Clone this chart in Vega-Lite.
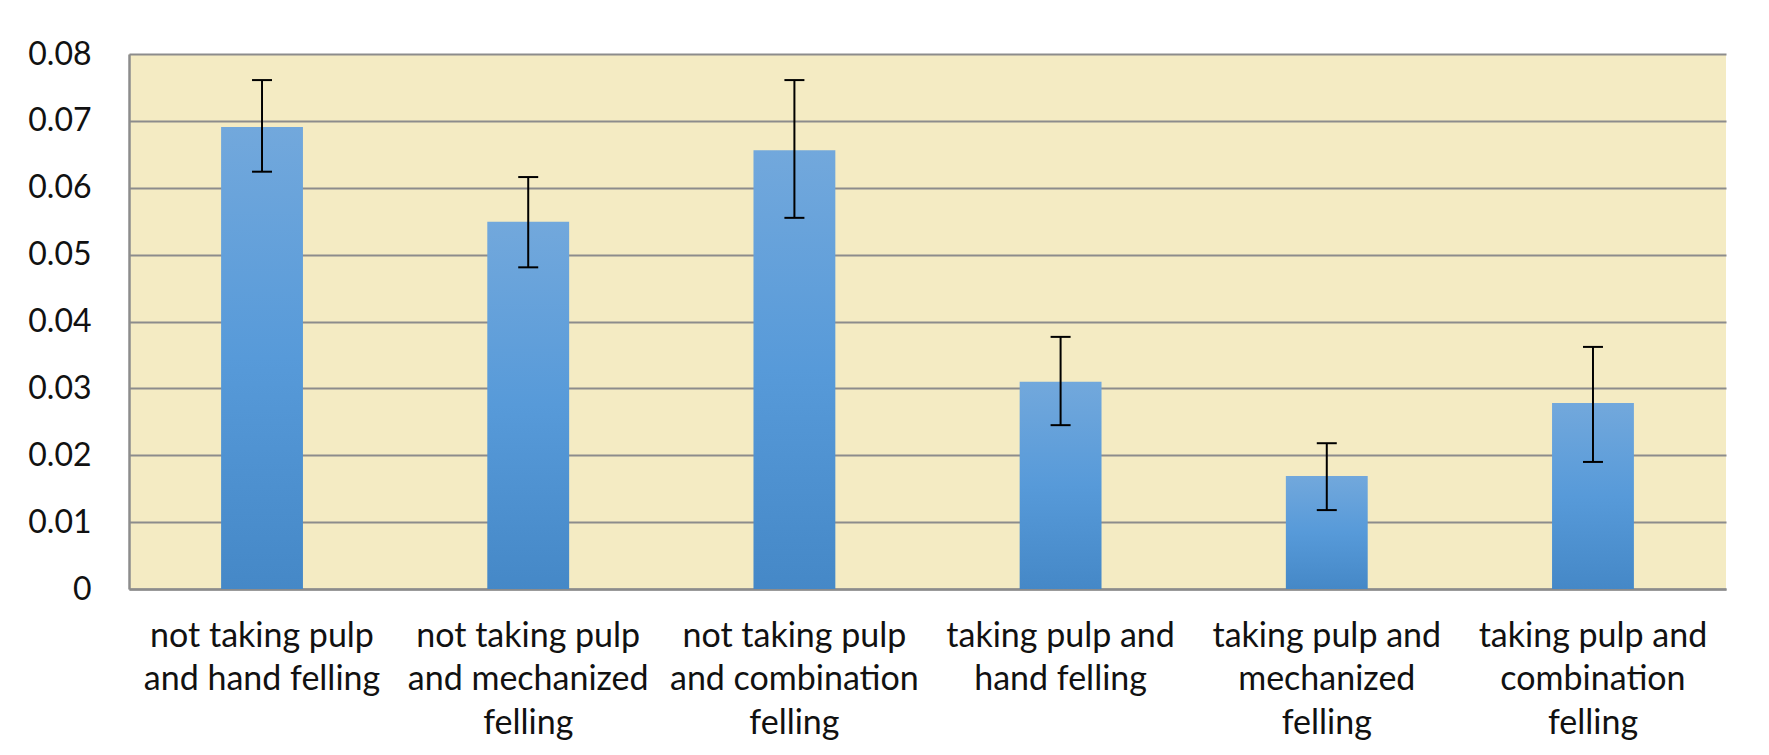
{
  "$schema": "https://vega.github.io/schema/vega-lite/v6.json",
  "autosize": {"type": "none"},
  "width": 1597,
  "height": 535,
  "padding": {"left": 129, "top": 54, "right": 43, "bottom": 166},
  "background": "white",
  "config": {
    "font": "Lato",
    "view": {"fill": "#f4ebc3", "stroke": null}
  },
  "data": {
    "values": [
      {"group": "not taking pulp|and hand felling", "value": 0.0691, "lo": 0.0624, "hi": 0.0761},
      {"group": "not taking pulp|and mechanized|felling", "value": 0.0549, "lo": 0.0481, "hi": 0.0616},
      {"group": "not taking pulp|and combination|felling", "value": 0.0656, "lo": 0.0555, "hi": 0.0761},
      {"group": "taking pulp and|hand felling", "value": 0.031, "lo": 0.0245, "hi": 0.0377},
      {"group": "taking pulp and|mechanized|felling", "value": 0.0169, "lo": 0.0118, "hi": 0.0218},
      {"group": "taking pulp and|combination|felling", "value": 0.0278, "lo": 0.019, "hi": 0.0362}
    ]
  },
  "encoding": {
    "x": {
      "field": "group",
      "type": "nominal",
      "sort": null,
      "scale": {"paddingInner": 0.6925, "paddingOuter": 0.346},
      "axis": {
        "title": null,
        "labelAngle": 0,
        "labelExpr": "split(datum.label, '|')",
        "labelFontSize": 34,
        "labelColor": "#111111",
        "labelLineHeight": 43.5,
        "labelBaseline": "top",
        "labelPadding": 30,
        "labelLimit": 0,
        "ticks": false,
        "domainColor": "#8c8c8c",
        "domainWidth": 2.5,
        "grid": false
      }
    }
  },
  "layer": [
    {
      "mark": {
        "type": "bar",
        "color": {
          "gradient": "linear",
          "x1": 0, "y1": 0, "x2": 0, "y2": 1,
          "stops": [
            {"offset": 0, "color": "#72a8dc"},
            {"offset": 0.5, "color": "#579ad9"},
            {"offset": 1, "color": "#4588c7"}
          ]
        }
      },
      "encoding": {
        "y": {
          "field": "value",
          "type": "quantitative",
          "scale": {"domain": [0, 0.08], "nice": false, "zero": true},
          "axis": {
            "title": null,
            "values": [0, 0.01, 0.02, 0.03, 0.04, 0.05, 0.06, 0.07, 0.08],
            "format": ".2~f",
            "labelFontSize": 32,
            "labelColor": "#111111",
            "labelPadding": 38,
            "ticks": false,
            "domainColor": "#8c8c8c",
            "domainWidth": 2.5,
            "grid": true,
            "gridColor": "#8c8c8c",
            "gridWidth": 2,
            "gridOpacity": 1
          }
        }
      }
    },
    {
      "mark": {"type": "rule", "color": "black", "strokeWidth": 2},
      "encoding": {
        "y": {"field": "lo", "type": "quantitative"},
        "y2": {"field": "hi"}
      }
    },
    {
      "mark": {"type": "tick", "color": "black", "thickness": 2, "size": 20, "opacity": 1},
      "encoding": {
        "y": {"field": "hi", "type": "quantitative"}
      }
    },
    {
      "mark": {"type": "tick", "color": "black", "thickness": 2, "size": 20, "opacity": 1},
      "encoding": {
        "y": {"field": "lo", "type": "quantitative"}
      }
    }
  ]
}
